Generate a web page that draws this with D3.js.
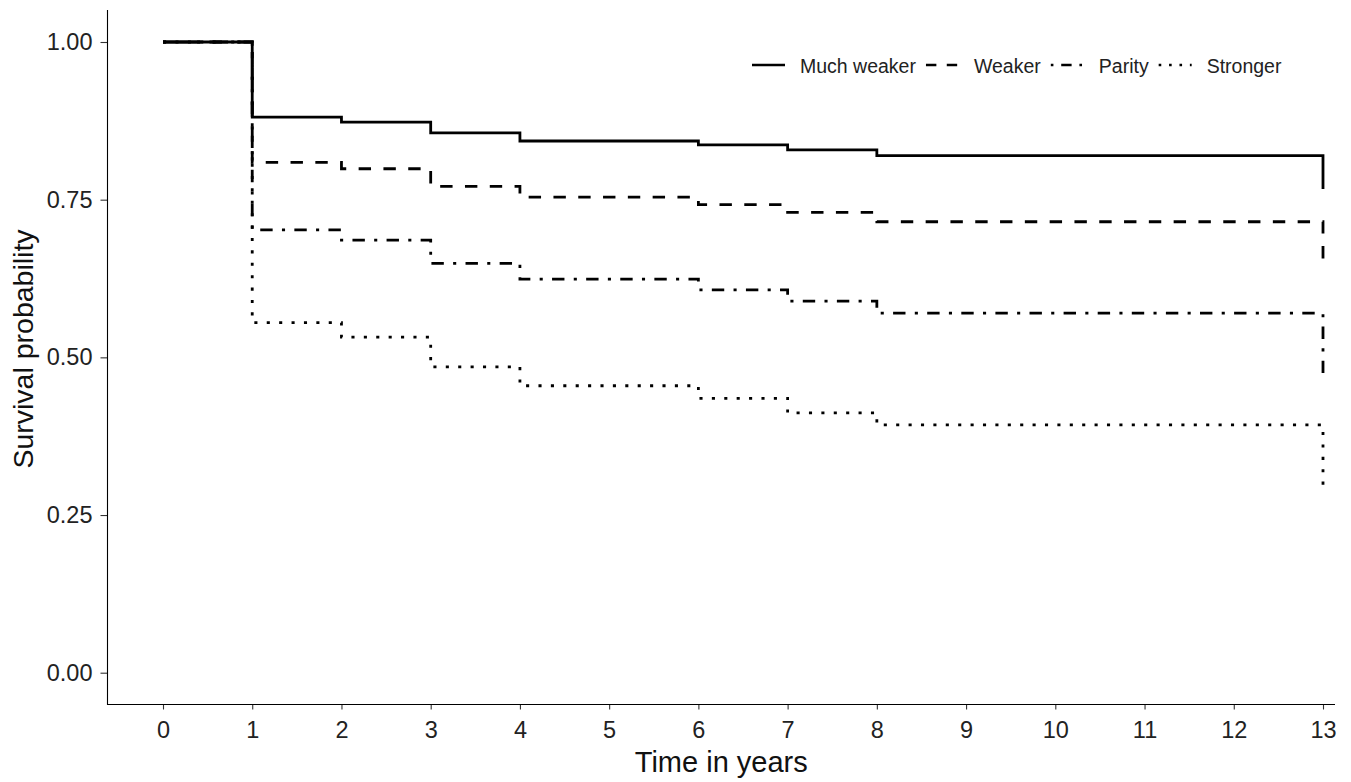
<!DOCTYPE html>
<html>
<head>
<meta charset="utf-8">
<script src="https://cdn.jsdelivr.net/npm/d3@7"></script>
<style>
  body { margin: 0; background: #fff; }
  svg { display: block; font-family: "Liberation Sans", Arial, sans-serif; }
</style>
</head>
<body>
<svg id="chart" width="1351" height="782"></svg>
<script>
// step times (years) and survival per group
const times = [0, 1, 2, 3, 4, 6, 7, 8, 13];
const groups = ["Much weaker", "Weaker", "Parity", "Stronger"];
const muchWeaker = [1, 0.881, 0.873, 0.856, 0.843, 0.837, 0.829, 0.820, 0.767];
const weaker     = [1, 0.809, 0.799, 0.771, 0.754, 0.742, 0.730, 0.715, 0.641];
const parity     = [1, 0.702, 0.686, 0.649, 0.624, 0.607, 0.589, 0.570, 0.475];
const stronger   = [1, 0.555, 0.532, 0.485, 0.455, 0.435, 0.412, 0.393, 0.288];
const xTicks = d3.range(0, 14);
const yTicks = [0, 0.25, 0.5, 0.75, 1];

const series = [muchWeaker, weaker, parity, stronger];

// linetypes as in ggplot (solid, 44, 1343, 13), u = unit length
function dash(i, u) {
  if (i === 0) return null;
  if (i === 1) return [4 * u, 4 * u].join(",");
  if (i === 2) return [u, 3 * u, 4 * u, 3 * u].join(",");
  return [u, 3 * u].join(",");
}

const svg = d3.select("#chart");

// panel edges
const panelLeft = 107.5, panelRight = 1335, panelTop = 10, panelBottom = 704.5;

const x = d3.scaleLinear().domain([0, 13]).range([163, 1323]);
const y = d3.scaleLinear().domain([0, 1]).range([672.7, 42]);

// curves
const line = d3.line()
  .x((d, i) => x(times[i]))
  .y(d => y(d))
  .curve(d3.curveStepAfter);

svg.append("g").selectAll("path")
  .data(series)
  .join("path")
  .attr("d", d => line(d))
  .attr("fill", "none")
  .attr("stroke", "#000")
  .attr("stroke-width", 2.8)
  .attr("stroke-linecap", "butt")
  .attr("stroke-linejoin", "miter")
  .attr("stroke-dasharray", (d, i) => dash(i, 3.1));

// axes
const gx = svg.append("g")
  .attr("transform", `translate(0,${panelBottom})`)
  .call(d3.axisBottom(x).tickValues(xTicks).tickSize(5).tickPadding(12).tickFormat(d3.format("d")));
const gy = svg.append("g")
  .attr("transform", `translate(${panelLeft},0)`)
  .call(d3.axisLeft(y).tickValues(yTicks).tickSize(7).tickPadding(8).tickFormat(d3.format(".2f")));

[gx, gy].forEach(g => {
  g.select(".domain").remove();
  g.selectAll(".tick line").attr("stroke", "#333").attr("stroke-width", 1.1);
  g.selectAll(".tick text")
    .attr("fill", "#222")
    .style("font-size", "23.5px")
    .style("font-family", "'Liberation Sans', Arial, sans-serif");
});

// axis lines
svg.append("line")
  .attr("x1", panelLeft).attr("x2", panelLeft).attr("y1", panelTop).attr("y2", panelBottom + 0.5)
  .attr("stroke", "#000").attr("stroke-width", 1.1);
svg.append("line")
  .attr("x1", panelLeft - 0.5).attr("x2", panelRight).attr("y1", panelBottom).attr("y2", panelBottom)
  .attr("stroke", "#000").attr("stroke-width", 1.1);

// axis titles
svg.append("text")
  .attr("x", (panelLeft + panelRight) / 2)
  .attr("y", 772)
  .attr("text-anchor", "middle")
  .style("font-size", "29px")
  .attr("fill", "#111")
  .text("Time in years");

svg.append("text")
  .attr("transform", `translate(33,349) rotate(-90)`)
  .attr("text-anchor", "middle")
  .style("font-size", "28.5px")
  .attr("fill", "#111")
  .text("Survival probability");

// legend
const legend = svg.append("g");
let tx = 800;
groups.forEach((name, i) => {
  const t = legend.append("text")
    .attr("x", tx)
    .attr("y", 73)
    .style("font-size", "19.5px")
    .attr("fill", "#222")
    .text(name);
  legend.append("line")
    .attr("x1", tx - 48).attr("x2", tx - 15)
    .attr("y1", 65).attr("y2", 65)
    .attr("stroke", "#000")
    .attr("stroke-width", 2.3)
    .attr("stroke-dasharray", dash(i, 2.6));
  tx += t.node().getComputedTextLength() + 58;
});
</script>
</body>
</html>
